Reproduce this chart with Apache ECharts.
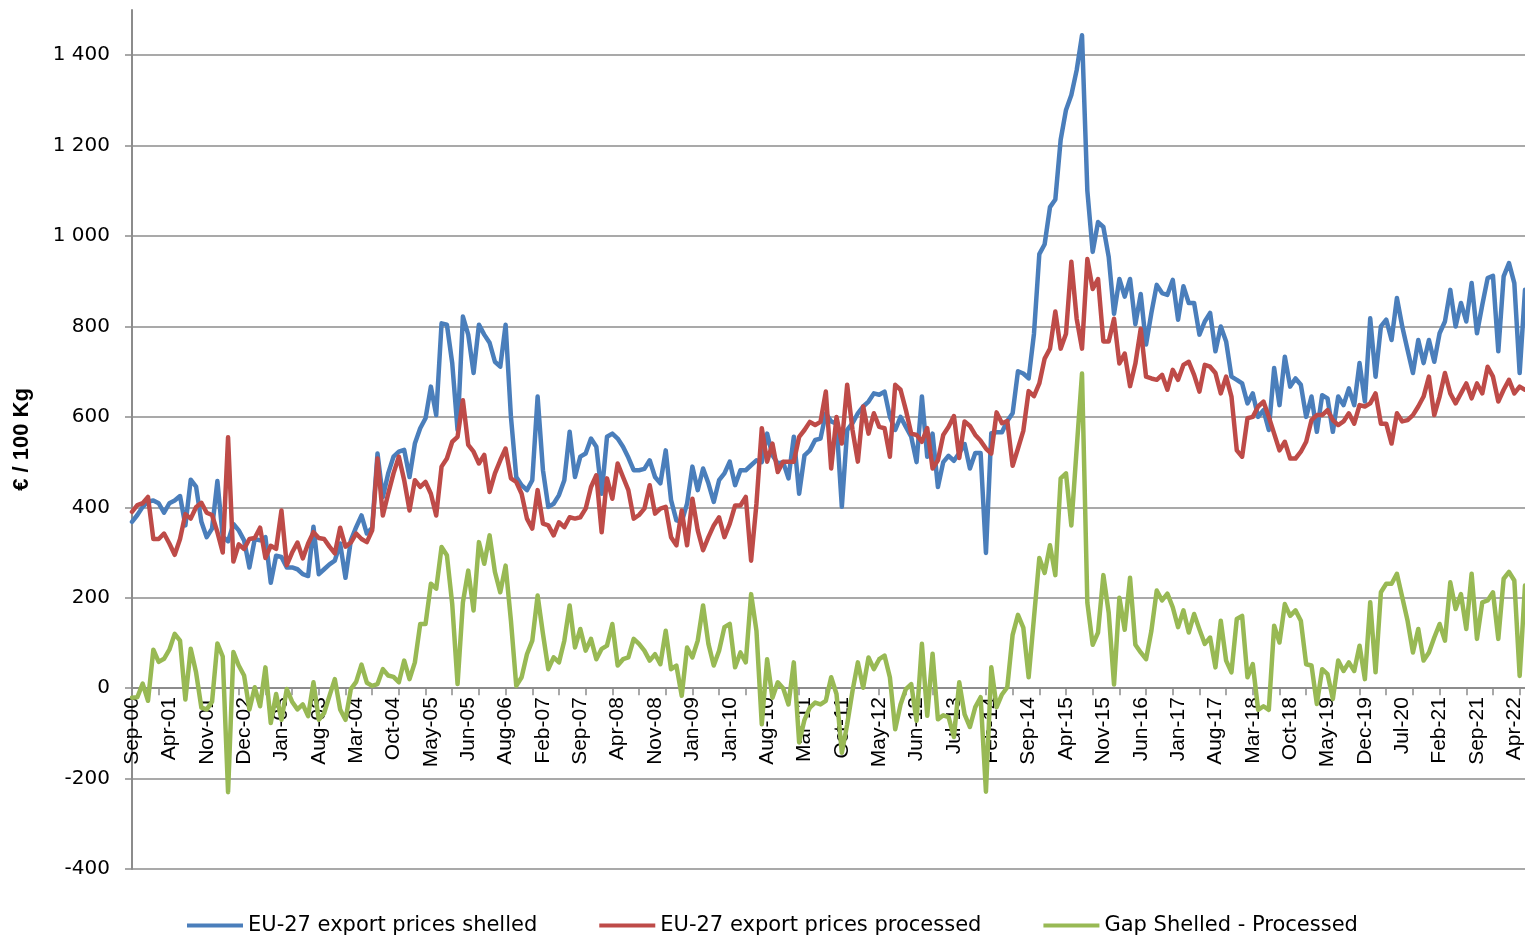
<!DOCTYPE html>
<html>
<head>
<meta charset="utf-8">
<title>EU-27 export prices</title>
<script src="https://cdn.jsdelivr.net/npm/echarts/dist/echarts.min.js"></script>
<style>
  html, body { margin: 0; padding: 0; background: #fff; }
  #chart { width: 1525px; height: 936px; }
</style>
</head>
<body>
<div id="chart"></div>
<script>
// tick labels, one every 7 points
const tickLabels = ['Sep-00', 'Apr-01', 'Nov-01', 'Dec-02', 'Jan-03', 'Aug-03', 'Mar-04', 'Oct-04',
  'May-05', 'Jun-05', 'Aug-06', 'Feb-07', 'Sep-07', 'Apr-08', 'Nov-08', 'Jan-09', 'Jan-10', 'Aug-10',
  'Mar-11', 'Oct-11', 'May-12', 'Jun-12', 'Jul-13', 'Feb-14', 'Sep-14', 'Apr-15', 'Nov-15', 'Jun-16',
  'Jan-17', 'Aug-17', 'Mar-18', 'Oct-18', 'May-19', 'Dec-19', 'Jul-20', 'Feb-21', 'Sep-21', 'Apr-22'];

const shelled = [
  368, 383, 401, 413, 415, 409, 388, 409, 415, 425,
  360, 461, 446, 368, 334, 353, 458, 335, 325, 363,
  349, 327, 267, 330, 327, 334, 233, 293, 290, 267,
  267, 263, 252, 248, 357, 252, 263, 274, 282, 320,
  244, 327, 356, 382, 342, 355, 519, 423, 475, 512,
  523, 527, 467, 541, 575, 597, 667, 604, 807, 804,
  719, 571, 822, 782, 697, 804, 782, 764, 722, 711,
  804, 600, 467, 449, 438, 460, 645, 482, 401, 408,
  427, 460, 567, 467, 512, 519, 552, 534, 430, 556,
  563, 552, 534, 510, 482, 482, 485, 504, 467, 453,
  526, 416, 371, 368, 408, 490, 438, 486, 453, 412,
  460, 475, 501, 449, 482, 482, 493, 504, 500, 563,
  515, 497, 500, 464, 556, 430, 515, 526, 549, 552,
  608, 590, 585, 401, 571, 586, 608, 623, 634, 652,
  649, 656, 600, 571, 600, 578, 556, 500, 645, 512,
  563, 445, 500, 514, 503, 520, 540, 486, 520, 520,
  299, 564, 566, 566, 591, 608, 701, 696, 685, 784,
  960, 982, 1064, 1081, 1213, 1279, 1312, 1367, 1444, 1100,
  965, 1031, 1020, 954, 828, 905, 866, 905, 805, 872,
  760, 830, 892, 874, 870, 903, 815, 889, 852, 852,
  782, 811, 830, 745, 800, 767, 689, 682, 674, 630,
  652, 600, 615, 571, 708, 626, 733, 667, 685, 671,
  600, 645, 567, 648, 641, 567, 645, 626, 663, 626,
  719, 634, 818, 689, 800, 815, 770, 863, 800, 748,
  697, 770, 719, 770, 722, 785, 811, 881, 800, 852,
  811, 896, 785, 848, 907, 912, 745, 911, 940, 896,
  697, 881
];

const processed = [
  390, 405, 409, 423, 330, 330, 342, 320, 295, 330,
  385, 375, 400, 410, 388, 383, 345, 300, 555, 280,
  318, 308, 330, 332, 355, 288, 315, 308, 393, 272,
  300, 322, 287, 320, 345, 332, 330, 313, 298, 355,
  313, 322, 342, 330, 323, 349, 508, 382, 430, 475,
  512, 460, 393, 460, 445, 456, 430, 382, 490, 508,
  545, 556, 637, 538, 523, 497, 516, 434, 475, 504,
  530, 464, 456, 430, 375, 353, 438, 364, 360, 338,
  367, 356, 378, 375, 378, 397, 445, 471, 345, 464,
  419, 497, 467, 438, 375, 383, 397, 449, 386, 397,
  401, 334, 316, 393, 316, 419, 349, 305, 334, 360,
  378, 334, 364, 404, 404, 423, 282, 408, 575, 501,
  541, 478, 501, 501, 501, 556, 571, 589, 582, 589,
  656, 486, 600, 541, 671, 571, 501, 623, 563, 608,
  578, 575, 512, 671, 660, 615, 563, 560, 545, 575,
  486, 504, 560, 578, 602, 509, 590, 580, 560, 547,
  530, 519, 610, 586, 591, 492, 530, 569, 657, 646,
  674, 729, 751, 833, 751, 784, 943, 817, 751, 949,
  883, 905, 767, 767, 817, 718, 740, 668, 718, 795,
  689, 685, 682, 693, 660, 704, 682, 715, 722, 693,
  656, 715, 711, 697, 652, 689, 645, 526, 512, 597,
  600, 623, 634, 600, 563, 526, 545, 508, 508, 523,
  545, 593, 604, 604, 615, 593, 582, 590, 608, 585,
  626, 623, 630, 652, 585, 585, 541, 608, 590, 593,
  604, 623, 645, 689, 604, 645, 697, 652, 630, 652,
  674, 641, 674, 652, 711, 689, 634, 660, 682, 652,
  667, 660
];

const gap = [
  -21, -20, 10, -28, 85, 58, 65, 85, 120, 105,
  -25, 87, 35, -43, -47, -30, 99, 70, -230, 80,
  50, 28, -47, 2, -40, 46, -77, -13, -70, -2,
  -30, -47, -36, -62, 13, -70, -55, -17, 20, -47,
  -70, -2, 14, 52, 12, 5, 9, 42, 28, 25,
  13, 61, 20, 57, 142, 142, 231, 220, 312, 294,
  186, 9, 190, 260, 172, 323, 275, 338, 257, 212,
  271, 149, 5, 24, 75, 105, 205, 120, 42, 68,
  57, 105, 183, 90, 131, 83, 109, 64, 87, 94,
  142, 50, 64, 68, 109, 98, 83, 61, 75, 53,
  127, 42, 50, -17, 90, 68, 105, 183, 98, 50,
  83, 135, 142, 46, 79, 57, 208, 127, -80, 64,
  -21, 13, 0, -36, 57, -120, -70, -43, -32, -36,
  -28, 24, -13, -143, -80, -6, 57, 1, 68, 42,
  64, 72, 24, -91, -36, -2, 9, -72, 98, -61,
  76, -69, -60, -64, -108, 13, -58, -86, -42, -20,
  -229, 46, -42, -14, 2, 118, 162, 134, 24, 156,
  288, 255, 316, 250, 464, 475, 360, 530, 696, 189,
  96, 123, 250, 167, 8, 200, 129, 244, 96, 79,
  64, 127, 216, 194, 209, 179, 135, 172, 123, 164,
  130, 98, 112, 46, 149, 61, 35, 153, 160, 24,
  53, -48, -40, -48, 138, 101, 186, 160, 172, 149,
  53, 50, -35, 42, 31, -24, 61, 38, 57, 38,
  94, 20, 190, 35, 212, 231, 231, 253, 201, 149,
  79, 131, 61, 79, 112, 142, 105, 234, 175, 208,
  131, 253, 109, 190, 194, 212, 109, 242, 257, 238,
  27, 227
];

const labelStep = 7; // one tick label every 7 points
const tickStep = 5;  // one tick mark every 5 points

// one category per point, named only where a tick label sits
const categories = shelled.map(function (v, i) {
  return i % labelStep === 0 ? tickLabels[i / labelStep] : '';
});

const yMin = -400;
const yMax = 1500;
const gridTop = 10;
const gridBottom = 67;
const plotHeight = 936 - gridTop - gridBottom;
// second (empty) grid ends at value 0, its bottom axis carries ticks and labels
const zeroBottom = gridBottom + (0 - yMin) / (yMax - yMin) * plotHeight;

const gridColor = '#8c8c8c';

const chart = echarts.init(document.getElementById('chart'), null, { renderer: 'canvas' });

chart.setOption({
  animation: false,
  backgroundColor: '#ffffff',
  grid: [
    { left: 132, right: 0, top: gridTop, bottom: gridBottom, outerBoundsMode: 'none' },
    { left: 132, right: 0, top: gridTop, bottom: zeroBottom, outerBoundsMode: 'none' }
  ],
  legend: {
    left: 182,
    top: 910,
    icon: 'rect',
    itemWidth: 56,
    itemHeight: 4,
    itemGap: 62,
    textStyle: {
      fontFamily: 'DejaVu Sans',
      fontSize: 21,
      color: '#000'
    },
    data: ['EU-27 export prices shelled', 'EU-27 export prices processed', 'Gap Shelled - Processed']
  },
  xAxis: [
    {
      gridIndex: 0,
      type: 'category',
      data: categories,
      boundaryGap: false,
      axisLine: { show: false },
      axisTick: { show: false },
      axisLabel: { show: false },
      splitLine: { show: false }
    },
    {
      gridIndex: 1,
      type: 'category',
      data: categories,
      boundaryGap: false,
      axisLine: {
        lineStyle: { color: gridColor, width: 2 }
      },
      axisTick: {
        interval: tickStep - 1,
        length: 7,
        lineStyle: { color: gridColor, width: 1.5 }
      },
      axisLabel: {
        interval: labelStep - 1,
        rotate: 90,
        margin: 9,
        fontFamily: 'Liberation Sans',
        fontSize: 21,
        color: '#000'
      },
      splitLine: { show: false }
    }
  ],
  yAxis: [
    {
      gridIndex: 0,
      type: 'value',
      min: yMin,
      max: yMax,
      interval: 200,
      name: '€ / 100 Kg',
      nameLocation: 'middle',
      nameRotate: 90,
      nameGap: 99,
      nameTextStyle: {
        fontFamily: 'Liberation Sans',
        fontWeight: 'bold',
        fontSize: 22,
        color: '#000'
      },
      axisLine: {
        show: true,
        lineStyle: { color: gridColor, width: 2 }
      },
      axisTick: {
        show: true,
        length: 7,
        lineStyle: { color: gridColor, width: 1.5 }
      },
      axisLabel: {
        showMaxLabel: false,
        margin: 22,
        fontFamily: 'DejaVu Sans',
        fontSize: 20,
        color: '#000',
        formatter: function (v) {
          return String(v).replace(/\B(?=(\d{3})+(?!\d))/g, ' ');
        }
      },
      splitLine: {
        show: true,
        showMaxLine: false,
        lineStyle: { color: gridColor, width: 1.5 }
      }
    },
    {
      gridIndex: 1,
      type: 'value',
      min: 0,
      max: 1,
      show: false
    }
  ],
  series: [
    {
      name: 'EU-27 export prices shelled',
      type: 'line',
      data: shelled,
      symbol: 'none',
      color: '#4A7EBB',
      lineStyle: { color: '#4A7EBB', width: 4.5, join: 'round', cap: 'round' }
    },
    {
      name: 'EU-27 export prices processed',
      type: 'line',
      data: processed,
      symbol: 'none',
      color: '#BE4B48',
      lineStyle: { color: '#BE4B48', width: 4.5, join: 'round', cap: 'round' }
    },
    {
      name: 'Gap Shelled - Processed',
      type: 'line',
      data: gap,
      symbol: 'none',
      color: '#98B954',
      lineStyle: { color: '#98B954', width: 4.5, join: 'round', cap: 'round' }
    }
  ]
});
</script>
</body>
</html>
